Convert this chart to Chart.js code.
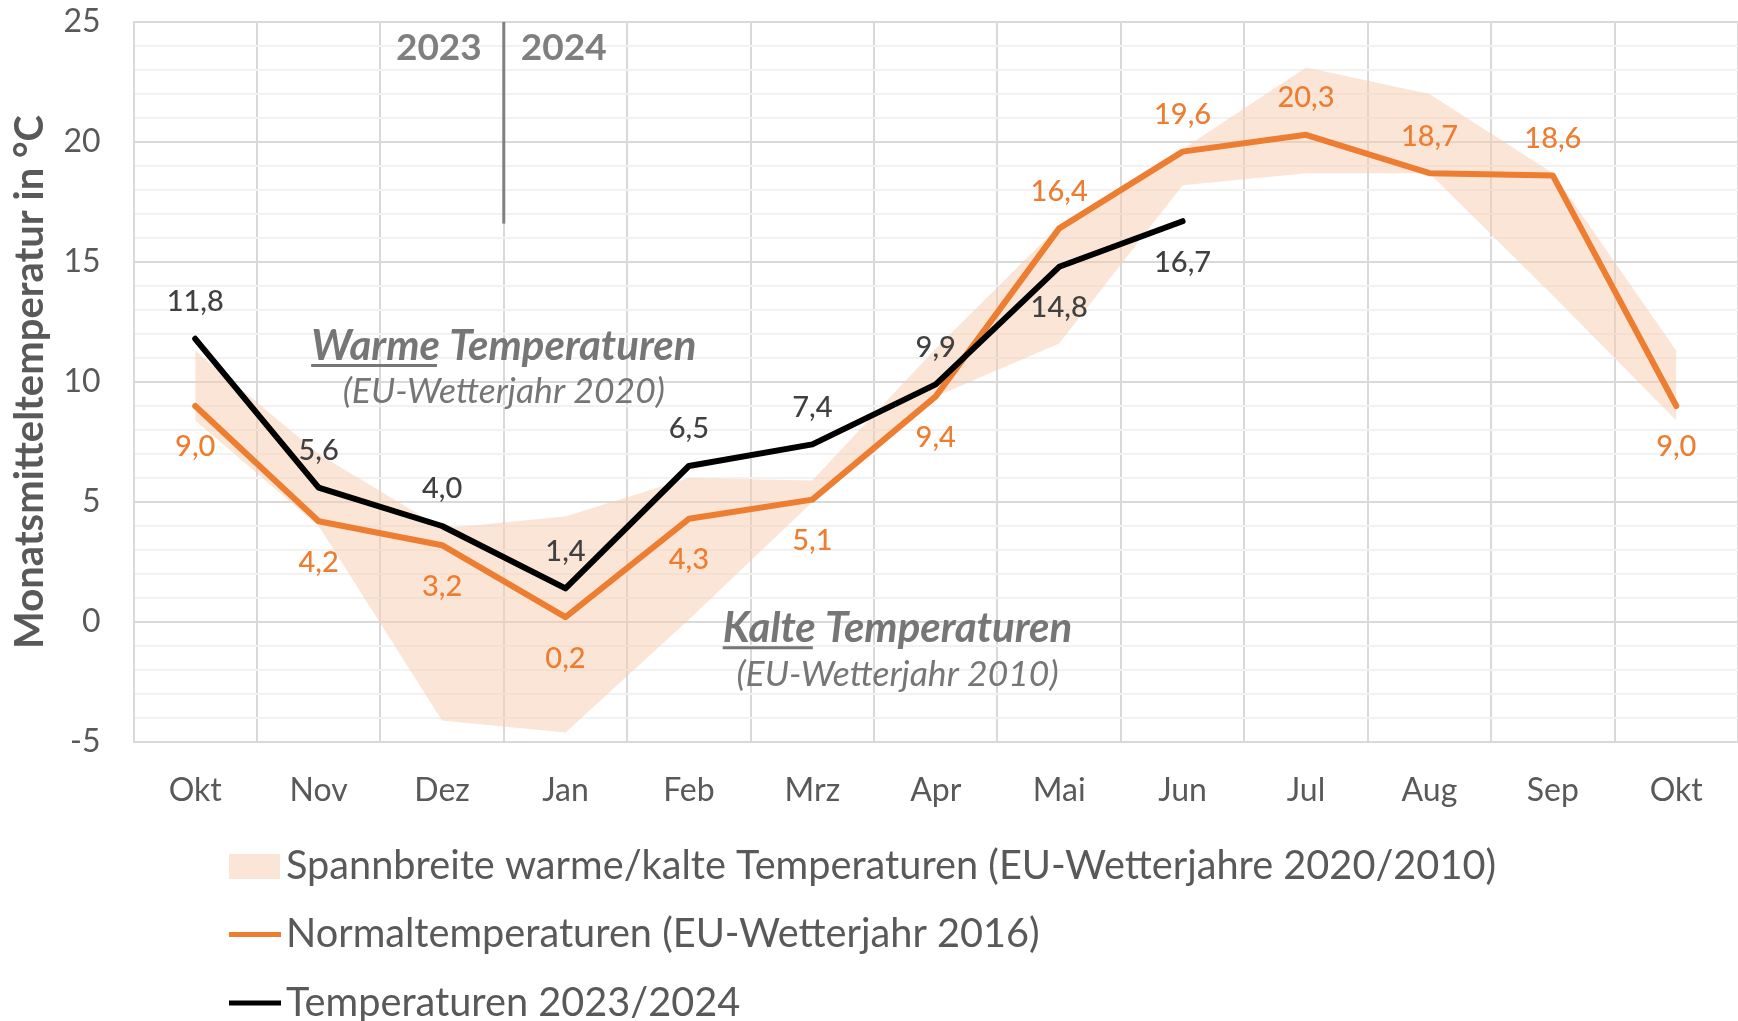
<!DOCTYPE html>
<html lang="de">
<head>
<meta charset="utf-8">
<title>Monatsmitteltemperaturen</title>
<script src="https://cdn.jsdelivr.net/npm/chart.js@4.4.1/dist/chart.umd.min.js"></script>
<style>
  html, body { margin: 0; padding: 0; background: #fff; }
  #wrap { width: 1738px; height: 1021px; position: relative; }
</style>
</head>
<body>
<div id="wrap"><canvas id="chartTemp"></canvas></div>
<script>
const monate = ["Okt", "Nov", "Dez", "Jan", "Feb", "Mrz", "Apr", "Mai", "Jun", "Jul", "Aug", "Sep", "Okt"];
const normal2016 = [9.0, 4.2, 3.2, 0.2, 4.3, 5.1, 9.4, 16.4, 19.6, 20.3, 18.7, 18.6, 9.0];
const ist2324 = [11.8, 5.6, 4.0, 1.4, 6.5, 7.4, 9.9, 14.8, 16.7, null, null, null, null];
const warm2020 = [11.3, 7.0, 3.9, 4.4, 6.0, 5.9, 11.4, 16.5, 19.7, 23.1, 22.0, 18.7, 11.3];
const kalt2010 = [8.4, 4.0, -4.1, -4.6, 0.1, 5.0, 9.4, 11.6, 18.2, 18.7, 18.7, 13.6, 8.4];
const yTicks = [-5, 0, 5, 10, 15, 20, 25];

// wo die Werte stehen: ueber oder unter dem Punkt
const posNormal = ["unten", "unten", "unten", "unten", "unten", "unten", "unten", "oben", "oben", "oben", "oben", "oben", "unten"];
const posIst = ["oben", "oben", "oben", "oben", "oben", "oben", "oben", "unten", "unten"];

const legendTexte = [
    "Spannbreite warme/kalte Temperaturen (EU-Wetterjahre 2020/2010)",
    "Normaltemperaturen (EU-Wetterjahr 2016)",
    "Temperaturen 2023/2024"
];

const ORANGE = "#ED7D31";
const BAND = "rgba(247,203,173,0.5)";
const GRAU = "#595959";
const FONT = "Lato, 'Open Sans', sans-serif";

function fmt(v) {
    return v.toFixed(1).replace(".", ",");
}

const etiketten = {
    id: "etiketten",
    afterDatasetsDraw(chart) {
        const ctx = chart.ctx;
        [[0, posIst, "#404040"], [1, posNormal, ORANGE]].forEach(([idx, pos, farbe]) => {
            const meta = chart.getDatasetMeta(idx);
            const werte = chart.data.datasets[idx].data;
            ctx.save();
            ctx.font = "500 29px " + FONT;
            ctx.fillStyle = farbe;
            ctx.textAlign = "center";
            ctx.textBaseline = "middle";
            meta.data.forEach((pt, i) => {
                if (werte[i] == null) return;
                const dy = pos[i] === "oben" ? -37 : 41;
                ctx.fillText(fmt(werte[i]), pt.x, pt.y + dy);
            });
            ctx.restore();
        });
    }
};

function unterstrichen(ctx, x, y, wort, rest) {
    const w1 = ctx.measureText(wort).width;
    const w2 = ctx.measureText(rest).width;
    const start = x - (w1 + w2) / 2;
    ctx.textAlign = "left";
    ctx.fillText(wort, start, y);
    ctx.fillText(rest, start + w1, y);
    ctx.fillRect(start, y + 18, w1 - 3, 3);
}

const beschriftung = {
    id: "beschriftung",
    beforeDatasetsDraw(chart) {
        const { ctx, scales: { x, y } } = chart;
        const lx = x.getPixelForValue(2.5);
        ctx.save();
        ctx.strokeStyle = "#808080";
        ctx.lineWidth = 3;
        ctx.beginPath();
        ctx.moveTo(lx, y.getPixelForValue(25));
        ctx.lineTo(lx, y.getPixelForValue(16.6));
        ctx.stroke();
        ctx.restore();
    },
    afterDatasetsDraw(chart) {
        const { ctx, scales: { x, y } } = chart;
        const lx = x.getPixelForValue(2.5);
        ctx.save();
        ctx.textBaseline = "middle";
        ctx.fillStyle = "#7f7f7f";
        ctx.font = "bold 37px " + FONT;
        ctx.textAlign = "right";
        ctx.fillText("2023", lx - 22, y.getPixelForValue(23.9));
        ctx.textAlign = "left";
        ctx.fillText("2024", lx + 17, y.getPixelForValue(23.9));

        ctx.fillStyle = "#767676";
        ctx.font = "italic bold 42px " + FONT;
        unterstrichen(ctx, x.getPixelForValue(2.5), y.getPixelForValue(11.5), "Warme", " Temperaturen");
        unterstrichen(ctx, x.getPixelForValue(5.69), y.getPixelForValue(-0.26), "Kalte", " Temperaturen");

        ctx.font = "italic 35.5px " + FONT;
        ctx.textAlign = "center";
        ctx.fillText("(EU-Wetterjahr 2020)", x.getPixelForValue(2.5), y.getPixelForValue(9.6));
        ctx.fillText("(EU-Wetterjahr 2010)", x.getPixelForValue(5.69), y.getPixelForValue(-2.2));
        ctx.restore();
    }
};

const legende = {
    id: "legende",
    afterDraw(chart) {
        const ctx = chart.ctx;
        const basis = chart.chartArea.bottom;
        ctx.save();
        ctx.font = "39.7px " + FONT;
        ctx.textBaseline = "middle";
        ctx.textAlign = "left";
        legendTexte.forEach((txt, i) => {
            const ym = basis + 124 + i * 68.5;
            if (i === 0) {
                ctx.fillStyle = BAND;
                ctx.fillRect(229, ym - 12, 51, 25);
            } else {
                ctx.strokeStyle = i === 1 ? ORANGE : "#000000";
                ctx.lineWidth = 5;
                ctx.beginPath();
                ctx.moveTo(229, ym);
                ctx.lineTo(281, ym);
                ctx.stroke();
            }
            ctx.fillStyle = GRAU;
            ctx.fillText(txt, 286, ym);
        });
        ctx.restore();
    }
};

new Chart(document.getElementById("chartTemp"), {
    type: "line",
    data: {
        labels: monate,
        datasets: [
            { label: legendTexte[2], data: ist2324, borderColor: "#000000", borderWidth: 6, pointRadius: 0, fill: false, order: 0 },
            { label: legendTexte[1], data: normal2016, borderColor: ORANGE, borderWidth: 6, pointRadius: 0, fill: false, order: 1 },
            { label: "warm", data: warm2020, borderWidth: 0, pointRadius: 0, backgroundColor: BAND, fill: "+1", order: 2 },
            { label: "kalt", data: kalt2010, borderWidth: 0, pointRadius: 0, fill: false, order: 3 }
        ]
    },
    options: {
        animation: false,
        responsive: true,
        maintainAspectRatio: false,
        devicePixelRatio: 1,
        layout: { padding: { top: 22, right: 0, bottom: 0, left: 0 } },
        elements: { line: { tension: 0, borderJoinStyle: "round", borderCapStyle: "round" } },
        plugins: {
            legend: { display: false },
            tooltip: { enabled: false }
        },
        scales: {
            x: {
                offset: true,
                grid: { offset: true, color: "#d9d9d9", lineWidth: 2, drawTicks: false },
                border: { color: "#d9d9d9", width: 2 },
                ticks: { color: GRAU, font: { family: FONT, size: 32 }, padding: 29, autoSkip: false, maxRotation: 0 },
                afterFit(scale) { scale.height = 279; }
            },
            y: {
                min: -5,
                max: 25,
                grid: {
                    drawTicks: false,
                    lineWidth: 2,
                    color: (c) => (yTicks.includes(c.tick.value) ? "#d9d9d9" : "#f2f2f2")
                },
                border: { color: "#d9d9d9", width: 2 },
                ticks: {
                    stepSize: 1,
                    maxTicksLimit: 40,
                    autoSkip: false,
                    color: GRAU,
                    font: { family: FONT, size: 32 },
                    padding: 33,
                    callback: (v) => (yTicks.includes(v) ? String(v) : "")
                },
                title: {
                    display: true,
                    text: "Monatsmitteltemperatur in °C",
                    color: GRAU,
                    font: { family: FONT, size: 40, weight: "bold" },
                    padding: { top: 6, bottom: 0 }
                },
                afterFit(scale) {
                    scale.width = 133.5;
                    scale.paddingTop = 0;
                    scale.paddingBottom = 0;
                }
            }
        }
    },
    plugins: [etiketten, beschriftung, legende]
});
</script>
</body>
</html>
